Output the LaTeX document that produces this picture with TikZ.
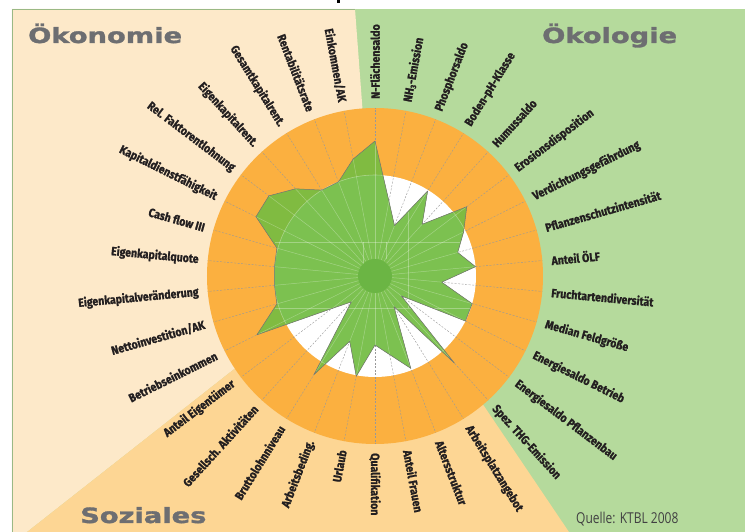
\documentclass[tikz,border=0pt]{standalone}
\usepackage{fontspec}
\setmainfont{Fira Sans}
\newfontfamily\labfont[FakeStretch=0.88, BoldFeatures={FakeBold=1.2}]{Fira Sans}
\newfontfamily\titlefont[FakeStretch=1.3, BoldFeatures={FakeBold=1.5}]{DejaVu Sans}
\newfontfamily\srcfont[FakeStretch=0.8]{Open Sans}
\definecolor{oekonbg}{RGB}{253,233,201}
\definecolor{sozbg}{RGB}{253,214,148}
\definecolor{oekolbg}{RGB}{181,218,156}
\definecolor{ringor}{RGB}{251,176,64}
\definecolor{polyout}{RGB}{128,187,65}
\definecolor{polyin}{RGB}{124,193,80}
\definecolor{hubgreen}{RGB}{107,181,68}
\definecolor{titlegray}{RGB}{109,110,113}
\definecolor{labcol}{RGB}{35,31,32}
\definecolor{srccol}{RGB}{65,64,66}
\begin{document}
\begin{tikzpicture}[x=1pt,y=1pt,
  lab/.style={font={\labfont\bfseries\fontsize{12}{14}\selectfont}, text=labcol, inner sep=0pt},
  ttl/.style={font={\titlefont\bfseries\fontsize{21}{24}\selectfont}, text=titlegray, inner sep=0pt, anchor=base west},
  spoke/.style={draw=black!40, line width=0.4pt, dash pattern=on 2pt off 1.5pt},
  lightspoke/.style={draw=white, draw opacity=0.3, line width=0.5pt}]
\useasboundingbox (-375,-256) rectangle (370,276);
% backgrounds
\fill[white] (-375,-256) rectangle (370,276);
\fill[oekolbg] (-363,-256) rectangle (370,267);
\fill[oekonbg] (-363,267) -- (-20,267) -- (0,0) -- (-142,-94) -- (-348,-256) -- (-363,-256) -- cycle;
\fill[sozbg] (0,0) -- (-142,-94) -- (-348,-256) -- (194,-256) -- (109,-130) -- cycle;
\draw[oekolbg!85!black, line width=0.5pt] (-363,-256) -- (-363,267) -- (-20,267);
\fill[black] (-38,276) rectangle (-34.5,272.7);
% ring
\fill[ringor] (0,0) circle[radius=168];
\fill[white] (0,0) circle[radius=101];
\foreach \i in {0,...,33}{
  \pgfmathsetmacro\ang{90-\i*360/34}
  \draw[spoke] (\ang:17) -- (\ang:168);
}
% data polygon
\foreach \r [count=\i from 0] in {135,76,54,100,70,115,99,86,101,67,101,101,33,118,36,99,80,69,102,70,116,35,54,132,102,101,101,102,133,133,118,101,101,119}{
  \pgfmathsetmacro\ang{90-\i*360/34}
  \coordinate (p\i) at (\ang:\r);
}
\fill[polyout] (p0) \foreach \i in {1,...,33}{ -- (p\i)} -- cycle;
\begin{scope}
  \clip (0,0) circle[radius=101];
  \fill[polyin] (p0) \foreach \i in {1,...,33}{ -- (p\i)} -- cycle;
\end{scope}
\begin{scope}
  \clip (p0) \foreach \i in {1,...,33}{ -- (p\i)} -- cycle;
  \foreach \i in {0,...,33}{
    \pgfmathsetmacro\ang{90-\i*360/34}
    \draw[lightspoke] (\ang:17) -- (\ang:168);
  }
  \draw[draw=white, draw opacity=0.35, line width=0.6pt] (0,0) circle[radius=101];
  \draw[lightspoke] (-100,34) -- (100,34);
  \draw[lightspoke] (-100,-32) -- (100,-32);
  \draw[lightspoke] (33,64) -- (33,-32);
  \draw[lightspoke] (-12,34) -- (-12,-10);
  \draw[lightspoke] (11,34) -- (11,17);
\end{scope}
\draw[black!55, line width=0.5pt, line join=round] (p0) \foreach \i in {1,...,33}{ -- (p\i)} -- cycle;
\fill[hubgreen] (0,0) circle[radius=17];
% labels
\foreach \t [count=\i from 0] in {{N-Flächensaldo},{NH\textsubscript{3}-Emission},{Phosphorsaldo},{Boden-pH-Klasse},{Humussaldo},{Erosionsdisposition},{Verdichtungsgefährdung},{Pflanzenschutzintensität},{Anteil ÖLF},{Fruchtartendiversität},{Median Feldgröße},{Energiesaldo Betrieb},{Energiesaldo Pflanzenbau},{Spez. THG-Emission},{Arbeitsplatzangebot},{Altersstruktur},{Anteil Frauen},{Qualifikation},{Urlaub},{Arbeitsbeding.},{Bruttolohnniveau},{Gesellsch. Aktivitäten},{Anteil Eigentümer},{Betriebseinkommen},{Nettoinvestition/AK},{Eigenkapitalveränderung},{Eigenkapitalquote},{Cash flow III},{Kapitaldienstfähigkeit},{Rel. Faktorentlohnung},{Eigenkapitalrent.},{Gesamtkapitalrent.},{Rentabilitätsrate},{Einkommen/AK}}{
  \pgfmathsetmacro\ang{90-\i*360/34}
  \pgfmathsetmacro\angb{\ang-180}
  \ifnum\i<18
    \node[lab, anchor=west, rotate=\ang] (l\i) at (\ang:177) {\t};
  \else
    \node[lab, anchor=east, rotate=\angb] (l\i) at (\ang:177) {\t};
  \fi
}
% titles
\node[ttl] (tOekon) at (-347,233) {Ökonomie};
\node[ttl] (tOekol) at (167,233) {Ökologie};
\node[ttl] (tSoz) at (-295,-247) {Soziales};
\node[font={\srcfont\fontsize{15}{17}\selectfont}, text=srccol, inner sep=0pt, anchor=base west] (src) at (201,-248) {Quelle: KTBL 2008};
\end{tikzpicture}
\end{document}
